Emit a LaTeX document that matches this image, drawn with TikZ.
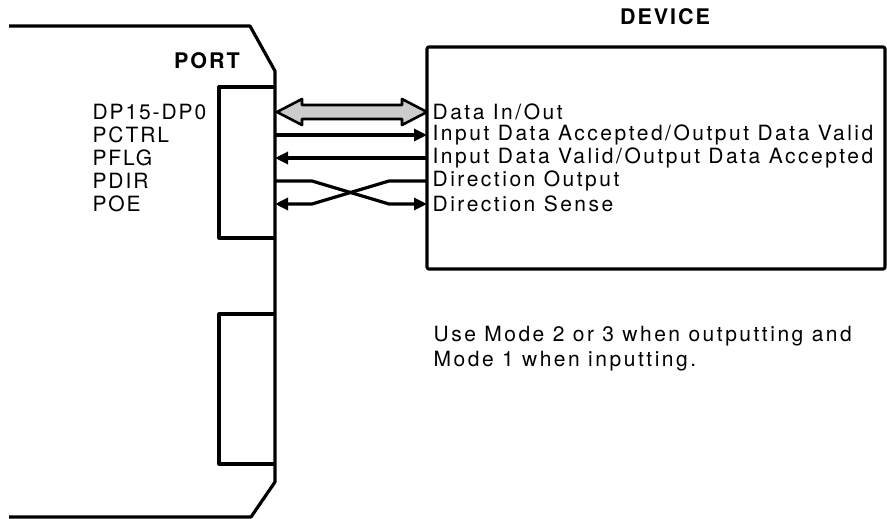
\documentclass[tikz,border=0pt]{standalone}
\usepackage{fontspec}
\setmainfont[LetterSpace=9]{TeX Gyre Heros}
\usetikzlibrary{arrows.meta}
\usetikzlibrary{calc}

\begin{document}
\begin{tikzpicture}
    [x=1pt,y=-1pt,line width=3.2pt,line join=round,
     font=\fontsize{21}{23}\selectfont,
     sig/.style={inner sep=0pt,anchor=west},
     pin/.style={sig,inner sep=4pt,font=\fontsize{21}{23}\selectfont\addfontfeature{LetterSpace=12}},
     line/.style={-{Triangle[length=13pt,width=12pt]}},
     title/.style={font=\fontsize{21.5}{23}\selectfont\bfseries}]
    \useasboundingbox (0,0) rectangle (887,519);
    % port card outline and its two connectors
    \draw (9,26) -- (250,26) -- (275,71) -- (275,482) -- (251,517) -- (9,517);
    \draw (275,87) -- (219,87) -- (219,238) -- (275,238);
    \draw (275,314) -- (219,314) -- (219,464) -- (275,464);
    \node [title] (port) at (207,61) {PORT};
    % device box
    \draw [rounded corners=2pt] (427,47) rectangle (885,269);
    \node [title] (device) at (665,17) {DEVICE};
    % port pins
    \node [sig] (dp) at (91,112) {DP15-DP0};
    \node [sig] (pctrl) at (91,135) {PCTRL};
    \node [sig] (pflg) at (91,158) {PFLG};
    \node [sig] (pdir) at (91,181) {PDIR};
    \node [sig] (poe) at (91,204) {POE};
    \coordinate (p1) at (275,112);
    \coordinate (p2) at (275,135);
    \coordinate (p3) at (275,158);
    \coordinate (p4) at (275,181);
    \coordinate (p5) at (275,204);
    % device pins
    \node [pin] (data) at (427,112) {Data In/Out};
    \node [pin] (ack) at (427,135) {Input Data Accepted/Output Data Valid};
    \node [pin] (valid) at (427,158) {Input Data Valid/Output Data Accepted};
    \node [pin] (dout) at (427,181) {Direction Output};
    \node [pin] (dsense) at (427,204) {Direction Sense};
    % data bus
    \draw [fill=black!20,line width=2.6pt]
      ($(p1)+(2,0)$) -- ++(25,-13) -- ++(0,6) -- ($(data.west)+(-25,-7)$) -- ++(0,-6)
      -- (data.west) -- ++(-25,13) -- ++(0,-6) -- ($(p1)+(27,7)$) -- ++(0,6) -- cycle;
    \draw [line] (p2) -- (ack.west);
    \draw [line] (valid.west) -- (p3);
    \draw [line] (p4) -- ++(37,0) -- ($(dsense.west)+(-38,0)$) -- (dsense.west);
    \draw [line] (dout.west) -- ++(-38,0) -- ($(p5)+(37,0)$) -- (p5);
    \node [anchor=north west,inner sep=0pt,align=left,
           font=\fontsize{21}{23}\selectfont\addfontfeature{LetterSpace=12}] (note) at (432,325)
      {Use Mode 2 or 3 when outputting and\\[2pt]Mode 1 when inputting.};
\end{tikzpicture}
\end{document}
